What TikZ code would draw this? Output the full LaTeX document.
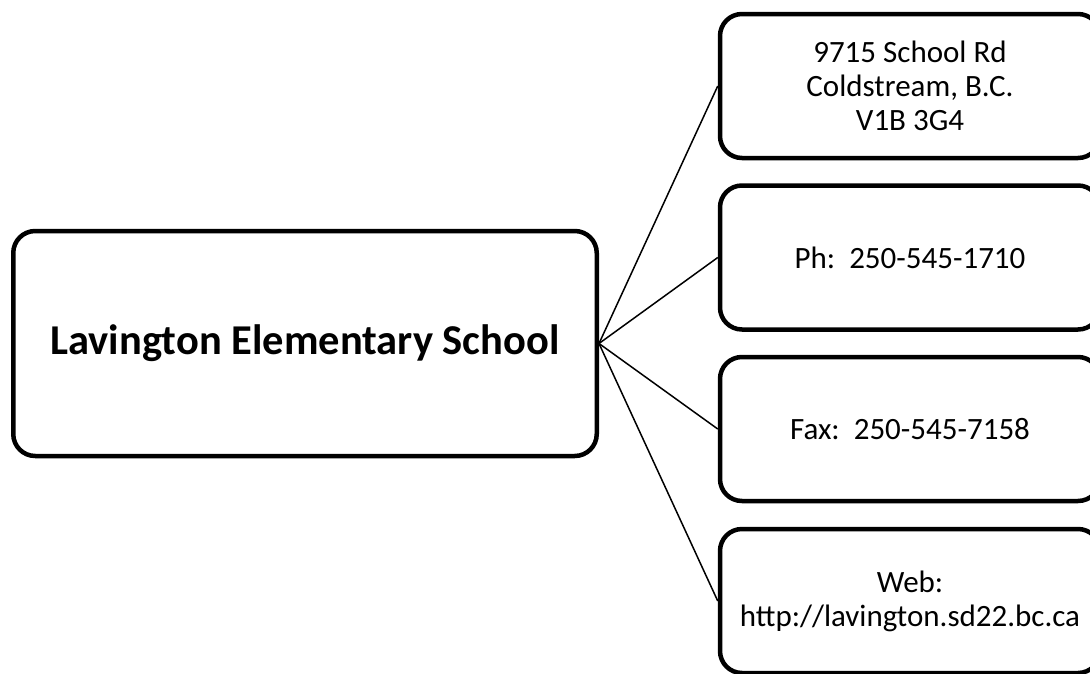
\documentclass[tikz,border=0pt]{standalone}
\usepackage{fontspec}
\setmainfont{Carlito}
\usetikzlibrary{positioning}

\begin{document}
\begin{tikzpicture}[x=1pt,y=-1pt,
    schoolbox/.style={draw, line width=4.5pt, rounded corners=22pt, align=center,
        minimum width=583.5pt, minimum height=225pt, inner sep=0pt,
        font=\bfseries\fontsize{42.5}{50}\selectfont},
    infobox/.style={draw, line width=4.5pt, rounded corners=22pt, align=center,
        minimum width=380pt, minimum height=144pt, inner sep=0pt,
        font=\fontsize{31}{34}\selectfont},
    spoke/.style={line width=1.5pt}]
    \useasboundingbox (0,0) rectangle (1090,673);
    \clip (0,0) rectangle (1090,673);
    \node[schoolbox] (school) at (305,343.5) {Lavington Elementary School};
    \node[infobox] (address) at (910,86) {9715 School Rd\\Coldstream, B.C.\\V1B 3G4};
    \node[infobox] (phone) at (910,257.5) {Ph:\ \ 250-545-1710};
    \node[infobox] (fax) at (910,429) {Fax:\ \ 250-545-7158};
    \node[infobox] (web) at (910,601) {Web:\\http://lavington.sd22.bc.ca};
    % spokes out of the school box
    \foreach \b in {address,phone,fax,web}
        \draw[spoke] (school.east) -- (\b.west);
\end{tikzpicture}
\end{document}
